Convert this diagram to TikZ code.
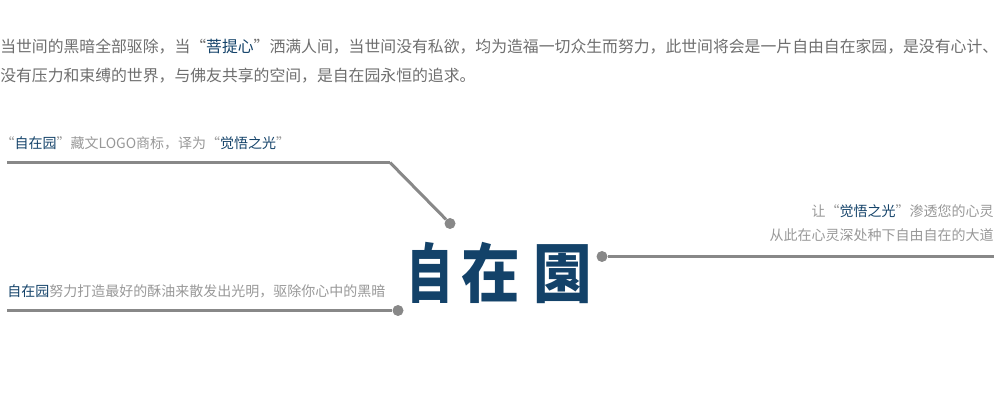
\documentclass[tikz,border=0pt]{standalone}
\usepackage{fontspec}
\usepackage{xcolor}
\usetikzlibrary{positioning,calc}
\setmainfont{Noto Sans CJK SC}
\newfontfamily\logofont{Noto Sans CJK SC Black}
\definecolor{txtgray}{HTML}{6E6E6E}
\definecolor{lblgray}{HTML}{989898}
\definecolor{linegray}{HTML}{888888}
\definecolor{logoblue}{HTML}{134269}
\newcommand{\hl}[1]{\textcolor{logoblue}{#1}}
\newcommand{\zc}{\char"FF0C\relax}
\newcommand{\pxd}{0.75pt}
\tikzset{
  para/.style={inner sep=0pt,align=left,text=txtgray,font=\fontsize{11.88}{21.75}\selectfont},
  lbl/.style={inner sep=0pt,text=lblgray,font=\fontsize{10.5}{18}\selectfont},
  dot/.style={circle,fill=linegray,inner sep=0pt,minimum size=8.25pt},
  rule/.style={draw=linegray,line width=2.25pt},
}
\begin{document}
\begin{tikzpicture}[x=\pxd,y=-\pxd,node distance=6pt]
\useasboundingbox (0,0) rectangle (1000,420);
\coordinate (topa)  at (7,162.5);
\coordinate (topb)  at (390,162.5);
\coordinate (lowa)  at (7,310.5);
\coordinate (rgtb)  at (994,256.5);
\node[dot] (topdot) at (450,223.5) {};
\node[dot] (lowdot) at (398,310.5) {};
\node[dot] (rgtdot) at (602,256.5) {};
%
\node[para,anchor=north west] (intro) at (0,39)
  {当世间的黑暗全部驱除\zc 当“\hl{菩提心}”洒满人间\zc 当世间没有私欲\zc 均为造福一切众生而努力\zc 此世间将会是一片自由自在家园\zc 是没有心计、\\
   没有压力和束缚的世界\zc 与佛友共享的空间\zc 是自在园永恒的追求。};
\node[lbl,above right=9pt and -5pt of topa] (toplbl) {“\hl{自在园}”藏文LOGO商标\zc 译为“\hl{觉悟之光}”};
\node[lbl,above right=9pt and 0pt of lowa] (lowlbl) {\hl{自在园}努力打造最好的酥油来散发出光明\zc 驱除你心中的黑暗};
\node[lbl,align=right,above left=11pt and 0pt of rgtb] (rgtlbl) {让“\hl{觉悟之光}”渗透您的心灵\\从此在心灵深处种下自由自在的大道};
\node[inner sep=0pt,text=logoblue,font=\logofont\fontsize{44}{44}\selectfont] (logo) at (499.5,272.5) {\scalebox{1}[1.1]{\scalebox{0.8}[1]{自}\hspace{6pt}在\hspace{10pt}園}};
%
\path[rule]
  (topa) edge (topb)
  (topb) edge (topdot)
  (lowa) edge (lowdot)
  (rgtdot) edge (rgtb)
; %-path-%
\end{tikzpicture}
\end{document}
